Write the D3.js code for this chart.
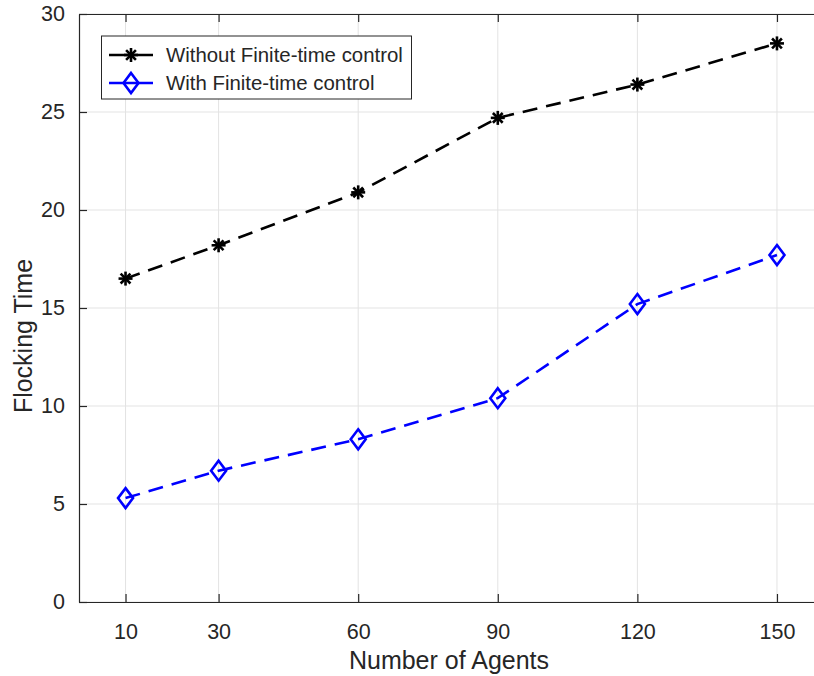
<!DOCTYPE html>
<html>
<head>
<meta charset="utf-8">
<script src="https://cdn.jsdelivr.net/npm/d3@7"></script>
<style>
  body { margin: 0; background: #fff; }
  svg text { font-family: "Liberation Sans", Arial, sans-serif; fill: #262626; }
</style>
</head>
<body>
<svg id="chart" width="814" height="676"></svg>
<script>
// data
var agents = [10, 30, 60, 90, 120, 150];
var withoutFT = [16.5, 18.2, 20.9, 24.7, 26.4, 28.5];
var withFT = [5.3, 6.7, 8.3, 10.4, 15.2, 17.7];
var yTicks = [0, 5, 10, 15, 20, 25, 30];
var seriesNames = ["Without Finite-time control", "With Finite-time control"];

var svg = d3.select("#chart");

// plot box (right side runs past the picture edge)
var pLeft = 79, pTop = 14, pBottom = 602, pRight = 823.5;

var x = d3.scaleLinear().domain([0, 160]).range([pLeft, pRight]);
var y = d3.scaleLinear().domain([0, 30]).range([pBottom, pTop]);

// grid
svg.append("g").selectAll("line").data(agents).join("line")
  .attr("x1", d => x(d)).attr("x2", d => x(d))
  .attr("y1", pTop).attr("y2", pBottom)
  .attr("stroke", "#e3e3e3").attr("stroke-width", 1)
svg.append("g").selectAll("line").data(yTicks).join("line")
  .attr("x1", pLeft).attr("x2", pRight)
  .attr("y1", d => y(d)).attr("y2", d => y(d))
  .attr("stroke", "#e3e3e3").attr("stroke-width", 1)

// axes (ticks inward, like matlab)
var xAxis = d3.axisBottom(x).tickValues(agents).tickSize(-8).tickPadding(22).tickSizeOuter(0)
var gx = svg.append("g").attr("transform", "translate(0," + pBottom + ")").call(xAxis)
var xTop = d3.axisTop(x).tickValues(agents).tickSize(-8).tickFormat("").tickSizeOuter(0)
var gxt = svg.append("g").attr("transform", "translate(0," + pTop + ")").call(xTop)
var yAxis = d3.axisLeft(y).tickValues(yTicks).tickSize(-8).tickPadding(14).tickSizeOuter(0)
var gy = svg.append("g").attr("transform", "translate(" + pLeft + ",0)").call(yAxis)

;[gx, gxt, gy].forEach(function(g) {
  g.select(".domain").attr("stroke", "#262626").attr("stroke-width", 1.2)
  g.selectAll(".tick line").attr("stroke", "#262626").attr("stroke-width", 1.2)
  g.selectAll(".tick text").style("font-size", "21.5px").attr("fill", "#262626")
})

// axis labels
svg.append("text")
  .attr("x", 449).attr("y", 669)
  .attr("text-anchor", "middle")
  .style("font-size", "25px")
  .text("Number of Agents")

svg.append("text")
  .attr("transform", "translate(32,336) rotate(-90)")
  .attr("text-anchor", "middle")
  .style("font-size", "25px")
  .text("Flocking Time")

// lines
var line = d3.line().x((d, i) => x(agents[i])).y(d => y(d))

function drawAsterisk(g, cx, cy, color) {
  var r = 7
  var pts = [[-r, 0, r, 0], [0, -r, 0, r], [-r*0.7, -r*0.7, r*0.7, r*0.7], [-r*0.7, r*0.7, r*0.7, -r*0.7]]
  pts.forEach(function(p) {
    g.append("line")
      .attr("x1", cx + p[0]).attr("y1", cy + p[1])
      .attr("x2", cx + p[2]).attr("y2", cy + p[3])
      .attr("stroke", color).attr("stroke-width", 2.6)
  })
}

function drawDiamond(g, cx, cy, color) {
  var w = 7.5, h = 10
  g.append("path")
    .attr("d", "M" + cx + "," + (cy - h) + "L" + (cx + w) + "," + cy + "L" + cx + "," + (cy + h) + "L" + (cx - w) + "," + cy + "Z")
    .attr("fill", "none").attr("stroke", color).attr("stroke-width", 2.6)
}

svg.append("path").datum(withoutFT)
  .attr("d", line)
  .attr("fill", "none").attr("stroke", "#000").attr("stroke-width", 2.6)
  .attr("stroke-dasharray", "15,9")

svg.append("path").datum(withFT)
  .attr("d", line)
  .attr("fill", "none").attr("stroke", "#0000ff").attr("stroke-width", 2.6)
  .attr("stroke-dasharray", "15,9")

var mk = svg.append("g")
withoutFT.forEach(function(v, i) { drawAsterisk(mk, x(agents[i]), y(v), "#000") })
withFT.forEach(function(v, i) { drawDiamond(mk, x(agents[i]), y(v), "#0000ff") })

// legend
var leg = svg.append("g")
leg.append("rect")
  .attr("x", 101.5).attr("y", 36).attr("width", 310).attr("height", 63)
  .attr("fill", "#fff").attr("stroke", "#262626").attr("stroke-width", 1)

var legRows = [55, 83]
var colors = ["#000", "#0000ff"]
seriesNames.forEach(function(name, i) {
  leg.append("line")
    .attr("x1", 109).attr("x2", 153)
    .attr("y1", legRows[i]).attr("y2", legRows[i])
    .attr("stroke", colors[i]).attr("stroke-width", 2.6)
  if (i == 0) drawAsterisk(leg, 131, legRows[i], colors[i])
  else drawDiamond(leg, 131, legRows[i], colors[i])
  leg.append("text")
    .attr("x", 166).attr("y", legRows[i])
    .attr("dy", "0.35em")
    .style("font-size", "20.4px")
    .attr("fill", "#000")
    .text(name)
})
</script>
</body>
</html>
